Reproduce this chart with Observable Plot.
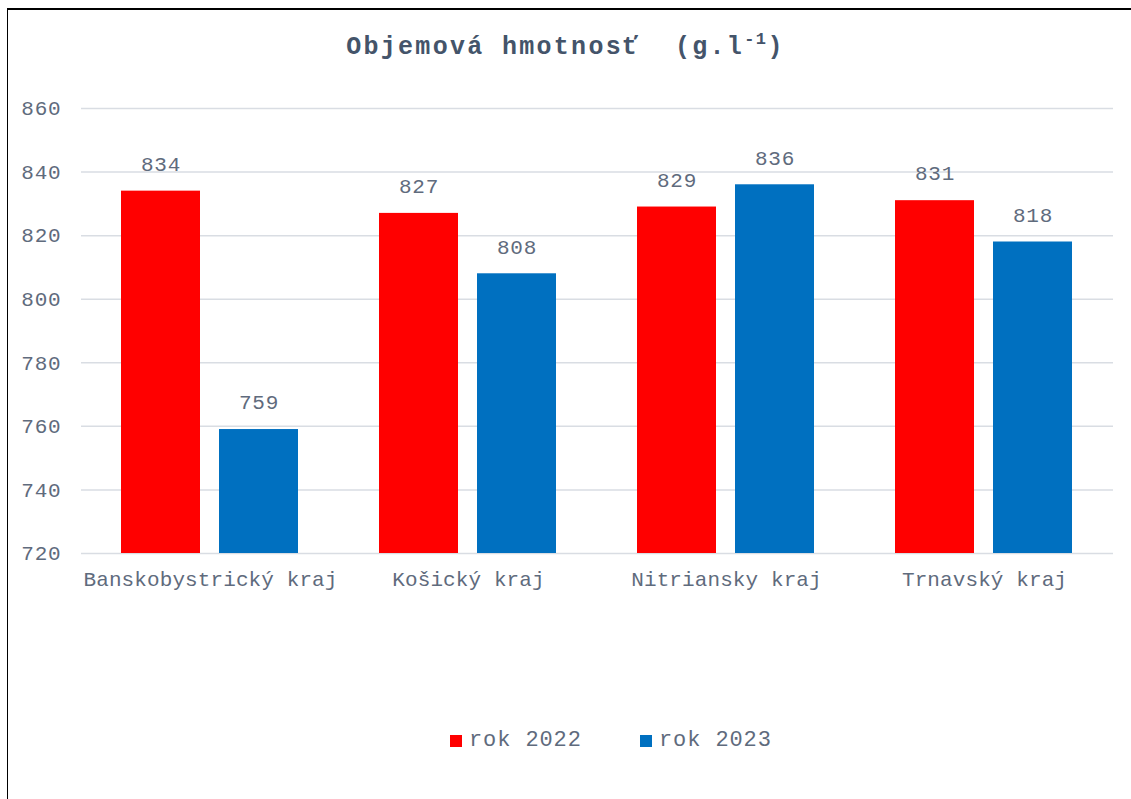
<!DOCTYPE html>
<html>
<head>
<meta charset="utf-8">
<script src="https://cdn.jsdelivr.net/npm/d3@7"></script>
<script src="https://cdn.jsdelivr.net/npm/@observablehq/plot@0.6"></script>
<style>
  html, body { margin: 0; padding: 0; background: #fff; }
  #wrap { position: relative; width: 1131px; height: 799px; overflow: hidden; font-family: "Liberation Mono", "Courier New", monospace; }
  #frame { position: absolute; left: 7px; top: 8px; width: 1140px; height: 800px; border-top: 2px solid #000; border-left: 1.5px solid #000; box-sizing: border-box; }
  #title { position: absolute; left: 0; width: 1131px; top: 33px; text-align: center; font-weight: bold; font-size: 25px; letter-spacing: 2.3px; color: #44546A; white-space: pre; }
  #title sup { font-size: 17px; letter-spacing: 1.5px; vertical-align: 10px; line-height: 0; }
  #chart { position: absolute; left: 0; top: 80px; }
  #chart svg text { letter-spacing: 0.8px; }
  #chart svg g[aria-label="fx-axis tick label"] text { letter-spacing: 0.1px; }
  .leg { position: absolute; top: 728px; display: flex; align-items: center; font-size: 22px; letter-spacing: 0.9px; color: #5F6B7D; }
  .sw { width: 12px; height: 12px; margin-right: 7px; }
</style>
</head>
<body>
<div id="wrap">
  <div id="frame"></div>
  <div id="title">Objemová hmotnosť  (g.l<sup>-1</sup>)</div>
  <div id="chart"></div>
  <div id="legend"></div>
</div>
<script>
const regions = ["Banskobystrický kraj", "Košický kraj", "Nitriansky kraj", "Trnavský kraj"];
const years = ["rok 2022", "rok 2023"];
const values2022 = [834, 827, 829, 831];
const values2023 = [759, 808, 836, 818];
const yTicks = [720, 740, 760, 780, 800, 820, 840, 860];
const colors = ["#FF0000", "#0070C0"];
const legendX = [450, 640];

const data = regions.flatMap((r, i) => [
  {region: r, year: years[0], value: values2022[i]},
  {region: r, year: years[1], value: values2023[i]}
]);

const textColor = "#5F6B7D";

const chart = Plot.plot({
  width: 1131,
  height: 523,
  marginLeft: 81,
  marginRight: 18,
  marginTop: 28,
  marginBottom: 50,
  style: {fontFamily: '"Liberation Mono", "Courier New", monospace', fontSize: "21px", color: textColor, background: "transparent", overflow: "visible"},
  fx: {domain: regions, padding: 0, label: null},
  x: {domain: years, paddingInner: 0.192, paddingOuter: 0.4, axis: null},
  y: {domain: [720, 860], label: null},
  color: {domain: years, range: colors},
  marks: [
    Plot.gridY(yTicks, {stroke: "#D9DDE3", strokeOpacity: 1, strokeWidth: 1.5}),
    Plot.barY(data, {fx: "region", x: "year", y1: 720, y2: "value", fill: "year"}),
    Plot.text(data, {fx: "region", x: "year", y: "value", text: d => String(d.value), dy: -27, lineAnchor: "middle", fontSize: 21, fill: textColor}),
    Plot.axisY(yTicks, {tickSize: 0, tickPadding: 20, label: null, fontSize: 21, fill: textColor}),
    Plot.axisFx({anchor: "bottom", tickSize: 0, tickPadding: 18, label: null, fontSize: 21, fill: textColor})
  ]
});
document.getElementById("chart").appendChild(chart);

const legend = document.getElementById("legend");
years.forEach((y, i) => {
  const item = document.createElement("div");
  item.className = "leg";
  item.style.left = legendX[i] + "px";
  const sw = document.createElement("span");
  sw.className = "sw";
  sw.style.background = colors[i];
  const t = document.createElement("span");
  t.textContent = y;
  item.appendChild(sw);
  item.appendChild(t);
  legend.appendChild(item);
});
</script>
</body>
</html>
